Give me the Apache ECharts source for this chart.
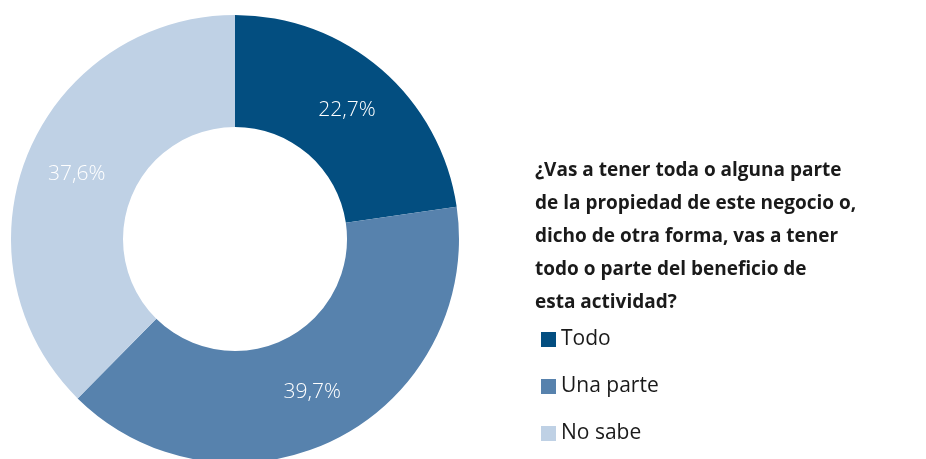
<!DOCTYPE html>
<html>
<head>
<meta charset="utf-8">
<script src="https://cdn.jsdelivr.net/npm/echarts@6/dist/echarts.min.js"></script>
<style>
  html, body { margin: 0; padding: 0; background: #fff; }
  #grafico { width: 926px; height: 459px; }
</style>
</head>
<body>
<div id="grafico"></div>
<script>
// datos
var categorias = ['Todo', 'Una parte', 'No sabe'];
var valores = [22.7, 39.7, 37.6];
var colores = ['#034e80', '#5782ad', '#bfd1e5'];
var pregunta = '¿Vas a tener toda o alguna parte\nde la propiedad de este negocio o,\ndicho de otra forma, vas a tener\ntodo o parte del beneficio de\nesta actividad?';

var fuente = '"Open Sans", "Noto Sans", sans-serif';

var chart = echarts.init(document.getElementById('grafico'));

var datos = categorias.map(function(c, i) {
    return { name: c, value: valores[i] };
});

var option = {
    animation: false,
    color: colores,
    title: {
        text: pregunta,
        left: 530,
        top: 149,
        textStyle: {
            fontFamily: fuente,
            fontSize: 19,
            fontWeight: 'bold',
            color: '#1a1a1a',
            lineHeight: 33
        }
    },
    legend: {
        orient: 'vertical',
        left: 536,
        top: 324,
        icon: 'rect',
        itemWidth: 15,
        itemHeight: 15,
        itemGap: 26,
        data: categorias,
        textStyle: {
            fontFamily: fuente,
            fontSize: 21,
            color: '#1a1a1a',
            padding: [0, 0, 0, 0]
        }
    },
    series: [
        {
            name: 'Beneficio',
            type: 'pie',
            center: [235, 239],
            radius: [112, 224],
            startAngle: 90,
            clockwise: true,
            avoidLabelOverlap: false,
            silent: true,
            label: {
                show: true,
                position: 'inside',
                color: '#fff',
                fontFamily: fuente,
                fontSize: 21,
                fontWeight: 300,
                formatter: function(p) {
                    return p.value.toFixed(1).replace('.', ',') + '%';
                }
            },
            labelLine: { show: false },
            data: datos
        }
    ]
};

chart.setOption(option);
</script>
</body>
</html>
